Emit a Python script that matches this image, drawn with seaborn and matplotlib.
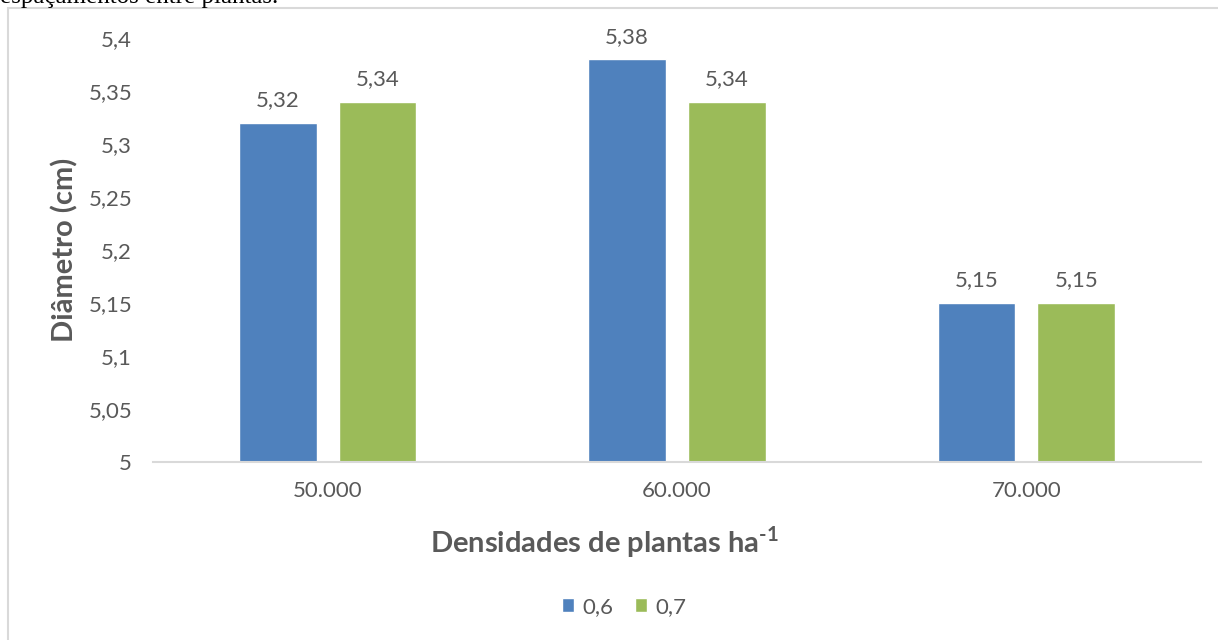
import matplotlib
matplotlib.use("Agg")
import matplotlib.pyplot as plt
import seaborn as sns
import pandas as pd
from matplotlib.patches import Rectangle
from matplotlib.ticker import FixedLocator, FuncFormatter

categories = ["50.000", "60.000", "70.000"]
series_06 = [5.32, 5.38, 5.15]
series_07 = [5.34, 5.34, 5.15]
series_names = ["0,6", "0,7"]
yticks = [5.0, 5.05, 5.1, 5.15, 5.2, 5.25, 5.3, 5.35, 5.4]

df = pd.DataFrame({
    "dens": categories * 2,
    "val": series_06 + series_07,
    "esp": [series_names[0]] * 3 + [series_names[1]] * 3,
})

sns.set_theme(style="white")
plt.rcParams["font.family"] = ["Lato", "DejaVu Sans"]
plt.rcParams["mathtext.fontset"] = "custom"
plt.rcParams["mathtext.rm"] = "Lato:bold"
plt.rcParams["mathtext.bf"] = "Lato:bold"
gray = "#595959"

fig = plt.figure(figsize=(12.18, 6.4), dpi=100)
ax = fig.add_axes([153 / 1218, 1 - 462 / 640, (1201 - 153) / 1218, (462 - 38) / 640])

sns.barplot(data=df, x="dens", y="val", hue="esp", order=categories,
            hue_order=series_names, palette=["#4f81bd", "#9bbb59"],
            width=0.571, gap=0.22, ax=ax, legend=True, saturation=1)

ax.set_ylim(5.0, 5.4)
ax.set_xlim(-0.5, 2.5)
ax.yaxis.set_major_locator(FixedLocator(yticks))
ax.yaxis.set_major_formatter(FuncFormatter(lambda v, p: f"{v:.2f}".rstrip("0").rstrip(".").replace(".", ",")))

for c in ax.containers:
    ax.bar_label(c, labels=[f"{v:.2f}".replace(".", ",") for v in c.datavalues],
                 padding=9, fontsize=16, color=gray)

for s in ["top", "right", "left"]:
    ax.spines[s].set_visible(False)
ax.spines["bottom"].set_color("#d9d9d9")
ax.spines["bottom"].set_linewidth(1.5)
ax.tick_params(axis="y", length=0, pad=15, labelsize=16, labelcolor=gray)
ax.tick_params(axis="x", length=0, pad=14, labelsize=16, labelcolor=gray)
for t in ax.get_yticklabels():
    t.set_horizontalalignment("right")

ax.set_ylabel("Diâmetro (cm)", fontsize=21, fontweight="bold", color=gray)
ax.set_xlabel("Densidades de plantas ha$^{\\text{-1}}$", fontsize=21, fontweight="bold", color=gray)
ax.yaxis.set_label_coords(-(153 - 78) / 1048, 0.5)
ax.xaxis.set_label_coords((604 - 153) / 1048, -(525 - 462) / 424)

leg = ax.legend(loc="center", bbox_to_anchor=(624 / 1218, 0.052), bbox_transform=fig.transFigure,
                ncol=2, frameon=False, fontsize=16, handlelength=0.55, handleheight=0.55,
                handletextpad=0.35, columnspacing=1.0)
for t in leg.get_texts():
    t.set_color(gray)

fig.patches.append(Rectangle((8 / 1218, -0.1), 1.2, (640 - 8) / 640 + 0.1,
                             transform=fig.transFigure, fill=False,
                             edgecolor="#d9d9d9", linewidth=1.5, zorder=0))
fig.text(0.0, 1 + 3 / 640, "espaçamentos entre plantas.", family=["Liberation Serif", "DejaVu Serif"],
         fontsize=18, color="black", ha="left", va="center")

fig.savefig("out.png", dpi=100)
